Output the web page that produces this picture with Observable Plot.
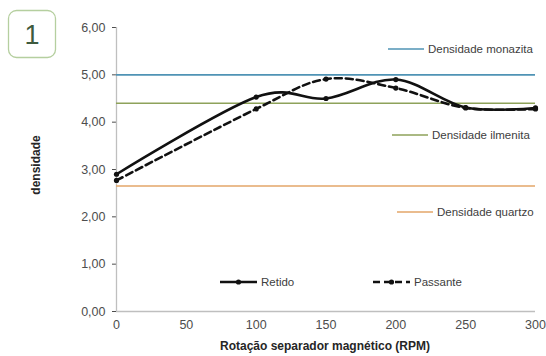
<!DOCTYPE html>
<html><head><meta charset="utf-8">
<script src="https://cdn.jsdelivr.net/npm/d3@7"></script>
<script src="https://cdn.jsdelivr.net/npm/@observablehq/plot@0.6"></script>
<style>
body{margin:0;background:#fff;font-family:"Liberation Sans",Arial,sans-serif;}
#wrap{position:relative;width:546px;height:356px;}
#wrap svg{position:absolute;left:0;top:0;}
</style></head><body>
<div id="wrap"></div>
<script>
const rpm = [0, 100, 150, 200, 250, 300];
const retido = [2.90, 4.53, 4.50, 4.90, 4.31, 4.30];
const passante = [2.77, 4.28, 4.91, 4.72, 4.30, 4.28];
const refNames = ["Densidade monazita", "Densidade ilmenita", "Densidade quartzo"];
const refValues = [5.00, 4.40, 2.65];
const refColors = ["#4f93b5", "#8ea25a", "#e3a668"];
const yTicks = [0, 1, 2, 3, 4, 5, 6];
const xTicks = [0, 50, 100, 150, 200, 250, 300];

const data = rpm.flatMap((x, i) => [
  {x, y: retido[i], s: "Retido"},
  {x, y: passante[i], s: "Passante"}
]);
const refs = refNames.map((n, i) => ({name: n, y: refValues[i], color: refColors[i]}));
const fmt = d => d.toFixed(2).replace(".", ",");

const chart = Plot.plot({
  width: 546, height: 356,
  marginLeft: 116, marginRight: 11, marginTop: 27, marginBottom: 45,
  style: {fontFamily: "Liberation Sans, Arial, sans-serif", fontSize: "12.5px", color: "#4d4d4d", background: "transparent"},
  x: {domain: [0, 300], ticks: xTicks, tickSize: 0, tickPadding: 9, label: null},
  y: {domain: [0, 6], ticks: yTicks, tickFormat: fmt, tickSize: 4, tickPadding: 7, label: null},
  marks: [
    Plot.ruleX([0], {stroke: "#bfbfbf", strokeWidth: 1.3, y1: 0, y2: 6}),
    Plot.ruleY([0], {stroke: "#bfbfbf", strokeWidth: 1.3}),
    Plot.ruleY(refs, {y: "y", stroke: "color", strokeWidth: 1.6}),
    Plot.line(data.filter(d => d.s === "Retido"), {x: "x", y: "y", stroke: "#111", strokeWidth: 2.6, curve: "cardinal"}),
    Plot.line(data.filter(d => d.s === "Passante"), {x: "x", y: "y", stroke: "#111", strokeWidth: 2.6, strokeDasharray: "7,4", curve: "cardinal"}),
    Plot.dot(data, {x: "x", y: "y", r: 2.6, fill: "#111", stroke: "none"})
  ]
});
const wrap = document.getElementById("wrap");
wrap.appendChild(chart);

const ov = d3.select(wrap).append("svg").attr("width", 546).attr("height", 356)
  .style("font-family", "Liberation Sans, Arial, sans-serif");

ov.append("rect").attr("x", 8.5).attr("y", 10.5).attr("width", 47).attr("height", 47).attr("rx", 8)
  .attr("fill", "#fff").attr("stroke", "#b5cf9f").attr("stroke-width", 1.3);
ov.append("text").attr("x", 32).attr("y", 44).attr("text-anchor", "middle")
  .attr("font-size", 27).attr("fill", "#3e5a3e").text("1");

const legPos = [[388, 49], [392, 135], [397, 212]];
refs.forEach((r, i) => {
  const [lx, ly] = legPos[i];
  ov.append("line").attr("x1", lx).attr("x2", lx + 36).attr("y1", ly).attr("y2", ly)
    .attr("stroke", r.color).attr("stroke-width", 1.6);
  ov.append("text").attr("x", lx + 40).attr("y", ly + 4).attr("font-size", 11.5).attr("fill", "#404040").text(r.name);
});
const sl = [["Retido", 220, null], ["Passante", 373, "7,4"]];
sl.forEach(([name, lx, dash]) => {
  ov.append("line").attr("x1", lx).attr("x2", lx + 37).attr("y1", 282).attr("y2", 282)
    .attr("stroke", "#111").attr("stroke-width", 2.6).attr("stroke-dasharray", dash);
  ov.append("circle").attr("cx", lx + 18.5).attr("cy", 282).attr("r", 2.6).attr("fill", "#111");
  ov.append("text").attr("x", lx + 41).attr("y", 286).attr("font-size", 11.5).attr("fill", "#404040").text(name);
});

ov.append("text").attr("transform", "translate(40,165) rotate(-90)").attr("text-anchor", "middle")
  .attr("font-size", 12).attr("font-weight", "bold").attr("fill", "#262626").text("densidade");
ov.append("text").attr("x", 325).attr("y", 350).attr("text-anchor", "middle")
  .attr("font-size", 12).attr("font-weight", "bold").attr("fill", "#262626").text("Rotação separador magnético (RPM)");
</script>
</body></html>
